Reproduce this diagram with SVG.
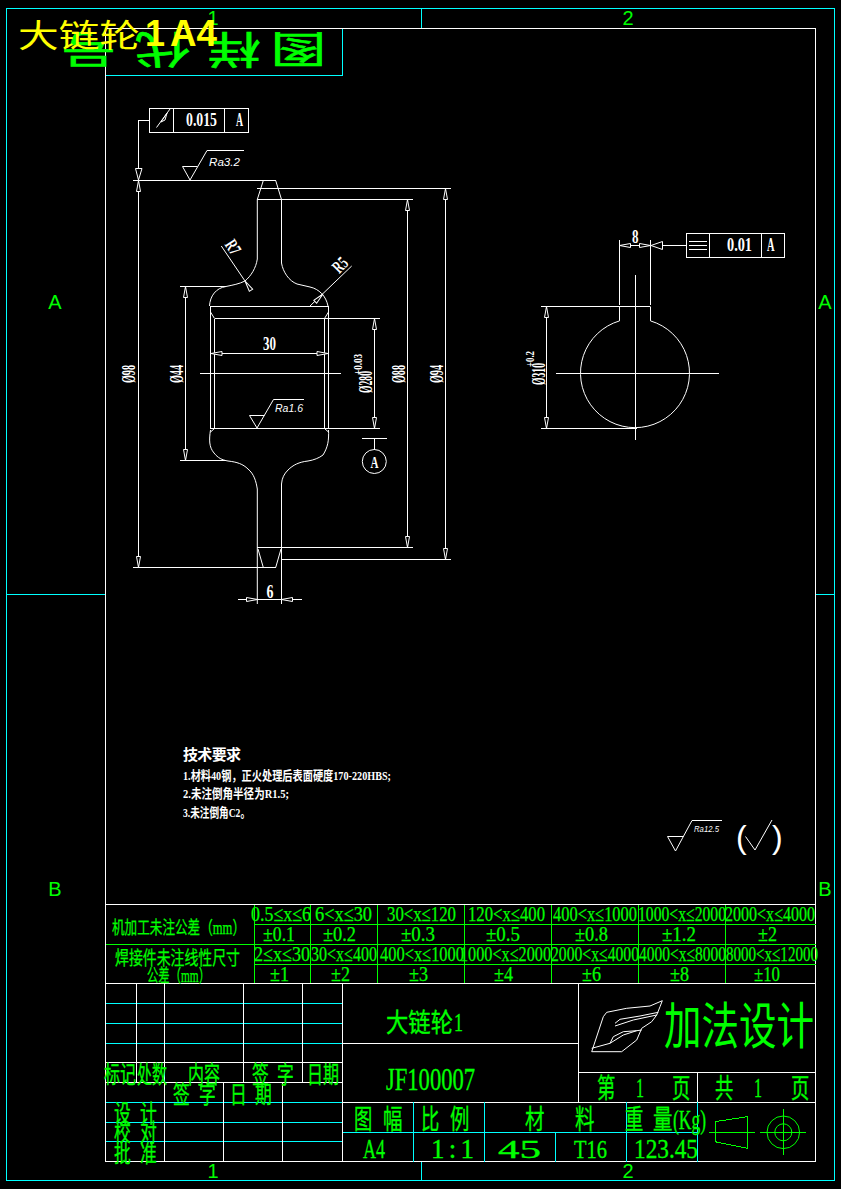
<svg xmlns="http://www.w3.org/2000/svg" xmlns:xlink="http://www.w3.org/1999/xlink" width="841" height="1189" viewBox="0 0 841 1189">
<style>
.w{stroke:#fff;stroke-width:1;fill:none;shape-rendering:crispEdges}
.s{stroke:#fff;stroke-width:1;fill:none}
.c{stroke:#0ff;stroke-width:1;fill:none;shape-rendering:crispEdges}
.g{stroke:#0f0;stroke-width:1;fill:none;shape-rendering:crispEdges}
.gs{stroke:#0f0;stroke-width:1;fill:none}
text{font-family:"Liberation Serif","Noto Sans CJK SC",serif}
.gt{fill:#0f0}
.wt{fill:#fff}
.d{fill:#fff;font-size:18px;font-weight:bold}
.ra{fill:#fff;font-family:"Liberation Sans",sans-serif;font-style:italic;font-size:11px}
.lab{fill:#0f0;font-family:"Liberation Sans",sans-serif;font-size:20px}
.t1{fill:#0f0;font-size:21px;stroke:#0f0;stroke-width:.25}
.t2{fill:#0f0;font-size:20px;stroke:#0f0;stroke-width:.25}
.cj{fill:#0f0;font-size:24px;stroke:#0f0;stroke-width:.3}
.big{fill:#0f0;font-size:27px;stroke:#0f0;stroke-width:.3}
</style>
<defs>
<polygon id="arr" points="0,0 -2,11 2,11" fill="#000" stroke="#fff" stroke-width="1"/>
</defs>
<rect width="841" height="1189" fill="#000"/>

<g id="sheet-border">
<rect class="c" x="6.5" y="8.5" width="828" height="1172"/>
<path class="c" d="M421.5 8.5V28.5M421.5 1162V1180.5M6.5 594.5H105.5M815.5 594.5H834.5M342.5 28.5V75.5H105.5"/>
<rect class="w" x="105.5" y="28.5" width="710" height="1133"/>
<text class="lab" x="213" y="25" text-anchor="middle">1</text>
<text class="lab" x="628" y="25" text-anchor="middle">2</text>
<text class="lab" x="213" y="1178" text-anchor="middle">1</text>
<text class="lab" x="628" y="1178" text-anchor="middle">2</text>
<text class="lab" x="55" y="309" text-anchor="middle">A</text>
<text class="lab" x="825" y="309" text-anchor="middle">A</text>
<text class="lab" x="55" y="896" text-anchor="middle">B</text>
<text class="lab" x="825" y="896" text-anchor="middle">B</text>
</g>

<g id="flipped-title" stroke="#0f0" stroke-width="0.6">
<text class="gt" font-size="38" transform="translate(326,36) rotate(180) scale(1.45,1)">图</text>
<text class="gt" font-size="38" transform="translate(261,36) rotate(180) scale(1.45,1)">样</text>
<text class="gt" font-size="38" transform="translate(190,36) rotate(180) scale(1.45,1)">代</text>
<text class="gt" font-size="38" transform="translate(116,36) rotate(180) scale(1.45,1)">号</text>
</g>

<g id="file-title">
<text x="18" y="47" fill="#ff0" font-size="32" textLength="122" lengthAdjust="spacingAndGlyphs">大链轮</text>
<text x="145" y="46" fill="#ff0" font-size="36" font-weight="bold" style="font-family:'Liberation Sans',sans-serif">1</text>
<text x="170" y="46" fill="#ff0" font-size="36" font-weight="bold" style="font-family:'Liberation Sans',sans-serif" textLength="47" lengthAdjust="spacingAndGlyphs">A4</text>
</g>

<g id="section-view">
<path class="s" d="M263.3 180.5L257.3 199.5V259C256 268 251 276 245 281C239 284 233 285 226 286.5C216 288 210 296 209.5 306"/>
<path class="s" d="M275.7 180.5L281.5 199.5V263C283 272 289 281 297 284L310 287C319 289 326 296 328 306"/>
<path class="w" d="M210.5 306H328.5V428.5H210.5ZM214.5 318.5H324.5M214.5 318.5V428.5M324.5 318.5V428.5"/>
<path class="s" d="M210.5 312L214.5 318.5M328.5 312L324.5 318.5M210.5 432L214.5 428.5M328.5 432L324.5 428.5"/>
<path class="s" d="M210.5 430C209 440 209 447 214 453C218 458 222 460 228 461C237 462 243 464 248 469C254 474 256 481 257.3 489V604"/>
<path class="s" d="M328.5 430C329 440 328 447 323 455C319 458 314 460 308 461C299 462 293 465 288 470C284 474 282 478 281.5 484V604"/>
<path class="s" d="M258 549L263.3 567.5M281 549L275.7 567.5"/>
<path class="w" d="M200 373.5H341"/>
</g>

<g id="section-connectors">
<path class="w" d="M133 180.5H276M133 567.5H276M257 188.5H451M281 559.5H451M257 199.5H413M257 547.5H413"/>
<path class="w" d="M180 286.5H226M180 460.5H226M214.5 318.5H380M214.5 428.5H380"/>
<path class="w" d="M138.5 180V567M185.5 286V460M374.5 318V428M407.5 199V547M445.5 188V559"/>
<path class="w" d="M211 353.5H328M238 599.5H302"/>
<use xlink:href="#arr" transform="translate(138.5,180.5)"/>
<use xlink:href="#arr" transform="translate(138.5,567.5) rotate(180)"/>
<use xlink:href="#arr" transform="translate(185.5,286.5)"/>
<use xlink:href="#arr" transform="translate(185.5,460.5) rotate(180)"/>
<use xlink:href="#arr" transform="translate(374.5,318.5)"/>
<use xlink:href="#arr" transform="translate(374.5,428.5) rotate(180)"/>
<use xlink:href="#arr" transform="translate(407.5,199.5)"/>
<use xlink:href="#arr" transform="translate(407.5,547.5) rotate(180)"/>
<use xlink:href="#arr" transform="translate(445.5,188.5)"/>
<use xlink:href="#arr" transform="translate(445.5,559.5) rotate(180)"/>
<use xlink:href="#arr" transform="translate(211,353.5) rotate(-90)"/>
<use xlink:href="#arr" transform="translate(328,353.5) rotate(90)"/>
<use xlink:href="#arr" transform="translate(257.5,599.5) rotate(90)"/>
<use xlink:href="#arr" transform="translate(281.5,599.5) rotate(-90)"/>
<path class="s" d="M221.3 246L245 281M310 306L351.7 266"/>
<use xlink:href="#arr" transform="translate(245,281) rotate(-33)"/>
<use xlink:href="#arr" transform="translate(323,294) rotate(45)"/>
</g>

<g id="dimension-labels">
<text class="d" transform="translate(135,383) rotate(-90)" textLength="18" lengthAdjust="spacingAndGlyphs">Ø98</text>
<text class="d" transform="translate(183,383) rotate(-90)" textLength="18" lengthAdjust="spacingAndGlyphs">Ø44</text>
<text class="d" transform="translate(405,383) rotate(-90)" textLength="18" lengthAdjust="spacingAndGlyphs">Ø88</text>
<text class="d" transform="translate(443,383) rotate(-90)" textLength="18" lengthAdjust="spacingAndGlyphs">Ø94</text>
<text class="d" transform="translate(372,393) rotate(-90)" textLength="22" lengthAdjust="spacingAndGlyphs">Ø280</text>
<text class="d" style="font-size:13px" transform="translate(362,375) rotate(-90)" textLength="21" lengthAdjust="spacingAndGlyphs">+0.03</text>
<text class="d" x="263" y="350" textLength="13" lengthAdjust="spacingAndGlyphs">30</text>
<text class="d" x="266.5" y="598" textLength="7" lengthAdjust="spacingAndGlyphs">6</text>
<text class="d" transform="translate(233,247) rotate(57)" x="-7" y="6" textLength="14" lengthAdjust="spacingAndGlyphs">R7</text>
<text class="d" transform="translate(340,265) rotate(-45)" x="-7" y="6" textLength="14" lengthAdjust="spacingAndGlyphs">R5</text>
</g>

<g id="tolerance-frame-top">
<rect class="w" x="149.5" y="108.5" width="99" height="24"/>
<path class="w" d="M173.5 108.5V132.5M224.5 108.5V132.5M149.5 120.5H138.5V168"/>
<path class="s" d="M156.5 127.5L170 109M161 122L167 113L165 120Z"/>
<polygon points="135.5,168.5 142,168.5 138.5,180" fill="none" stroke="#fff"/>
<text class="d" x="186" y="125.5" textLength="31" lengthAdjust="spacingAndGlyphs" style="font-size:19px">0.015</text>
<text class="d" x="236" y="125.5" textLength="7" lengthAdjust="spacingAndGlyphs">A</text>
</g>

<g id="roughness-ra32">
<path class="s" d="M182.5 166.5H197.5M182.5 166.5L190 180L207 150.5H244"/>
<text class="ra" x="209" y="166" textLength="31" lengthAdjust="spacingAndGlyphs">Ra3.2</text>
</g>
<g id="roughness-ra16">
<path class="s" d="M249.5 415.5H264.5M249.5 415.5L257 428L273.5 399.5H304"/>
<text class="ra" x="275" y="412" textLength="28" lengthAdjust="spacingAndGlyphs">Ra1.6</text>
</g>
<g id="datum-a">
<path class="w" d="M362 438.5H387M374.5 438.5V449.5"/>
<circle class="s" cx="374.3" cy="461.5" r="12"/>
<text class="d" x="370.5" y="468" textLength="8" lengthAdjust="spacingAndGlyphs" style="font-size:16px">A</text>
</g>

<g id="keyway-view">
<path class="s" d="M619.5 320.9V306.5M650.5 320.9V306.5M619.5 320.9A54.5 54.5 0 1 0 650.5 320.9"/>
<path class="w" d="M635.5 275V440M556 373.5H719"/>
</g>
<g id="keyway-connectors">
<path class="w" d="M541 306.5H650M541 428.5H637M546.5 306V428M619.5 240V305M650.5 240V305M619.5 245.5H650.5M662 245.5H686"/>
<use xlink:href="#arr" transform="translate(546.5,306.5)"/>
<use xlink:href="#arr" transform="translate(546.5,428.5) rotate(180)"/>
<use xlink:href="#arr" transform="translate(619.5,245.5) rotate(-90)"/>
<use xlink:href="#arr" transform="translate(650.5,245.5) rotate(90)"/>
<polygon points="651,245.5 662.5,241.5 662.5,249.5" fill="none" stroke="#fff"/>
<text class="d" x="632" y="243" textLength="6.5" lengthAdjust="spacingAndGlyphs">8</text>
<text class="d" transform="translate(545,385) rotate(-90)" textLength="22" lengthAdjust="spacingAndGlyphs">Ø310</text>
<text class="d" style="font-size:13px" transform="translate(534,367) rotate(-90)" textLength="16" lengthAdjust="spacingAndGlyphs">+0.2</text>
</g>
<g id="tolerance-frame-right">
<rect class="w" x="686.5" y="233.5" width="98" height="24"/>
<path class="w" d="M709.5 233.5V257.5M761.5 233.5V257.5M689 241.5H707M689 245.5H707M689 249.5H707"/>
<text class="d" x="727" y="251" textLength="25" lengthAdjust="spacingAndGlyphs" style="font-size:19px">0.01</text>
<text class="d" x="767" y="250.5" textLength="7.5" lengthAdjust="spacingAndGlyphs">A</text>
</g>

<g id="tech-requirements" font-weight="bold">
<text class="wt" x="183" y="760" font-size="15" textLength="58" lengthAdjust="spacing">技术要求</text>
<text class="wt" x="183" y="780" font-size="13" textLength="208" lengthAdjust="spacingAndGlyphs">1.材料40钢，正火处理后表面硬度170-220HBS;</text>
<text class="wt" x="183" y="798" font-size="13" textLength="106" lengthAdjust="spacingAndGlyphs">2.未注倒角半径为R1.5;</text>
<text class="wt" x="183" y="817" font-size="13" textLength="67" lengthAdjust="spacingAndGlyphs">3.未注倒角C2。</text>
</g>

<g id="roughness-general">
<path class="s" d="M667.5 836.5H683.5M667.5 836.5L675.5 851L692 820.5H722"/>
<text class="ra" x="694" y="832" textLength="25" lengthAdjust="spacingAndGlyphs" style="font-size:9px">Ra12.5</text>
<path class="s" d="M745.5 836.5L755 850L772 820"/>
<text class="wt" x="736" y="848" font-size="32" style="font-family:'Liberation Sans',sans-serif">(</text>
<text class="wt" x="772" y="848" font-size="32" style="font-family:'Liberation Sans',sans-serif">)</text>
</g>

<g id="tolerance-table">
<path class="w" d="M105.5 904.5H815.5M105.5 983.5H815.5"/>
<path class="g" d="M105.5 944.5H815.5M254.5 924.5H815.5M254.5 964.5H815.5M254.5 905V983M310.5 905V983M377.5 905V983M464.5 905V983M551.5 905V983M638.5 905V983M725.5 905V983"/>
<text class="t1" style="font-size:18px" x="112" y="934" textLength="133" lengthAdjust="spacingAndGlyphs">机加工未注公差（mm）</text>
<text class="t1" style="font-size:19px" x="115" y="965" textLength="125" lengthAdjust="spacingAndGlyphs">焊接件未注线性尺寸</text>
<text class="t1" style="font-size:18px" x="147" y="982" textLength="63" lengthAdjust="spacingAndGlyphs">公差（mm）</text>
<text class="t1" x="251" y="921" textLength="60" lengthAdjust="spacingAndGlyphs">0.5≤x≤6</text>
<text class="t1" x="315" y="921" textLength="57" lengthAdjust="spacingAndGlyphs">6&lt;x≤30</text>
<text class="t1" x="387" y="921" textLength="69" lengthAdjust="spacingAndGlyphs">30&lt;x≤120</text>
<text class="t1" x="468" y="921" textLength="77" lengthAdjust="spacingAndGlyphs">120&lt;x≤400</text>
<text class="t1" x="553" y="921" textLength="84" lengthAdjust="spacingAndGlyphs">400&lt;x≤1000</text>
<text class="t1" x="638" y="921" textLength="88" lengthAdjust="spacingAndGlyphs">1000&lt;x≤2000</text>
<text class="t1" x="725" y="921" textLength="90" lengthAdjust="spacingAndGlyphs">2000&lt;x≤4000</text>
<text class="t1" x="263" y="941" textLength="32" lengthAdjust="spacingAndGlyphs">±0.1</text>
<text class="t1" x="323" y="941" textLength="33" lengthAdjust="spacingAndGlyphs">±0.2</text>
<text class="t1" x="401" y="941" textLength="34" lengthAdjust="spacingAndGlyphs">±0.3</text>
<text class="t1" x="486" y="941" textLength="34" lengthAdjust="spacingAndGlyphs">±0.5</text>
<text class="t1" x="575" y="941" textLength="33" lengthAdjust="spacingAndGlyphs">±0.8</text>
<text class="t1" x="662" y="941" textLength="34" lengthAdjust="spacingAndGlyphs">±1.2</text>
<text class="t1" x="758" y="941" textLength="19" lengthAdjust="spacingAndGlyphs">±2</text>
<text class="t1" x="254" y="961" textLength="56" lengthAdjust="spacingAndGlyphs">2≤x≤30</text>
<text class="t1" x="311" y="961" textLength="66" lengthAdjust="spacingAndGlyphs">30&lt;x≤400</text>
<text class="t1" x="380" y="961" textLength="84" lengthAdjust="spacingAndGlyphs">400&lt;x≤1000</text>
<text class="t1" x="460" y="961" textLength="91" lengthAdjust="spacingAndGlyphs">1000&lt;x≤2000</text>
<text class="t1" x="551" y="961" textLength="88" lengthAdjust="spacingAndGlyphs">2000&lt;x≤4000</text>
<text class="t1" x="639" y="961" textLength="87" lengthAdjust="spacingAndGlyphs">4000&lt;x≤8000</text>
<text class="t1" x="726" y="961" textLength="92" lengthAdjust="spacingAndGlyphs">8000&lt;x≤12000</text>
<text class="t1" x="270" y="981" textLength="19" lengthAdjust="spacingAndGlyphs">±1</text>
<text class="t1" x="331" y="981" textLength="19" lengthAdjust="spacingAndGlyphs">±2</text>
<text class="t1" x="409" y="981" textLength="19" lengthAdjust="spacingAndGlyphs">±3</text>
<text class="t1" x="494" y="981" textLength="19" lengthAdjust="spacingAndGlyphs">±4</text>
<text class="t1" x="582" y="981" textLength="19" lengthAdjust="spacingAndGlyphs">±6</text>
<text class="t1" x="670" y="981" textLength="19" lengthAdjust="spacingAndGlyphs">±8</text>
<text class="t1" x="754" y="981" textLength="26" lengthAdjust="spacingAndGlyphs">±10</text>
</g>

<g id="revision-block">
<path class="c" d="M105.5 1003.5H342.5M105.5 1023.5H342.5M105.5 1043.5H342.5M105.5 1102.5H342.5M105.5 1122.5H342.5M105.5 1141.5H342.5"/>
<path class="w" d="M105.5 1062.5H342.5M105.5 1082.5H342.5M136.5 983V1082M164.5 983V1162M243.5 983V1082M302.5 983V1082M342.5 983V1162M223.5 1082V1162M282.5 1082V1162"/>
<text class="cj" x="104" y="1083" textLength="32" lengthAdjust="spacingAndGlyphs">标记</text>
<text class="cj" x="137" y="1083" textLength="30" lengthAdjust="spacingAndGlyphs">处数</text>
<text class="cj" x="188" y="1083" textLength="32" lengthAdjust="spacingAndGlyphs">内容</text>
<text class="cj" transform="translate(252,1083) scale(.7,1)">签</text>
<text class="cj" transform="translate(277,1083) scale(.7,1)">字</text>
<text class="cj" x="307" y="1083" textLength="32" lengthAdjust="spacingAndGlyphs">日期</text>
<text class="cj" transform="translate(173,1103) scale(.7,1)">签</text>
<text class="cj" transform="translate(199,1103) scale(.7,1)">字</text>
<text class="cj" transform="translate(230,1103) scale(.7,1)">日</text>
<text class="cj" transform="translate(255,1103) scale(.7,1)">期</text>
<text class="cj" transform="translate(114,1122) scale(.7,1)">设</text>
<text class="cj" transform="translate(140,1122) scale(.7,1)">计</text>
<text class="cj" transform="translate(114,1141) scale(.7,1)">校</text>
<text class="cj" transform="translate(140,1141) scale(.7,1)">对</text>
<text class="cj" transform="translate(114,1162) scale(.7,1)">批</text>
<text class="cj" transform="translate(140,1162) scale(.7,1)">准</text>
</g>

<g id="title-block">
<path class="w" d="M342.5 1043.5H578.5M578.5 983V1102M578.5 1072.5H815.5M697.5 1072V1102M342.5 1102.5H815.5"/>
<path class="c" d="M342.5 1132.5H697.5M413.5 1102V1162M484.5 1102V1162M555.5 1132V1162M626.5 1102V1162M697.5 1102V1162"/>
<text class="big" style="font-size:26px" x="386" y="1032" textLength="67" lengthAdjust="spacingAndGlyphs">大链轮</text>
<text class="big" style="font-size:26px" x="454" y="1031" textLength="9" lengthAdjust="spacingAndGlyphs">1</text>
<text class="big" style="font-size:32px" x="386" y="1090" textLength="89" lengthAdjust="spacingAndGlyphs">JF100007</text>
<text class="gt" x="664" y="1044" font-size="50" textLength="150" lengthAdjust="spacingAndGlyphs">加法设计</text>
<text class="big" transform="translate(597,1098) scale(.68,1)">第</text>
<text class="big" x="636" y="1097" textLength="8" lengthAdjust="spacingAndGlyphs">1</text>
<text class="big" transform="translate(672,1098) scale(.68,1)">页</text>
<text class="big" transform="translate(715,1098) scale(.68,1)">共</text>
<text class="big" x="754" y="1097" textLength="8" lengthAdjust="spacingAndGlyphs">1</text>
<text class="big" transform="translate(791,1098) scale(.68,1)">页</text>
<text class="big" transform="translate(354,1129) scale(.68,1)">图</text>
<text class="big" transform="translate(383,1129) scale(.72,1)">幅</text>
<text class="big" transform="translate(421,1129) scale(.68,1)">比</text>
<text class="big" transform="translate(450,1129) scale(.72,1)">例</text>
<text class="big" transform="translate(525,1129) scale(.72,1)">材</text>
<text class="big" transform="translate(575,1129) scale(.72,1)">料</text>
<text class="big" transform="translate(625,1129) scale(.68,1)">重</text>
<text class="big" transform="translate(653,1129) scale(.72,1)">量</text>
<text class="big" x="673" y="1129" textLength="33" lengthAdjust="spacingAndGlyphs">(Kg)</text>
<text class="big" x="363" y="1158" textLength="22" lengthAdjust="spacingAndGlyphs">A4</text>
<text class="big" x="431" y="1158" textLength="43" lengthAdjust="spacing">1:1</text>
<text class="big" style="font-size:26px" x="498" y="1158" textLength="43" lengthAdjust="spacingAndGlyphs">45</text>
<text class="big" style="font-size:26px" x="574" y="1158" textLength="33" lengthAdjust="spacingAndGlyphs">T16</text>
<text class="big" x="634" y="1158" textLength="64" lengthAdjust="spacingAndGlyphs">123.45</text>
</g>

<g id="logo">
<path class="s" d="M591.7 1051.7L603.3 1016.7L606.7 1012.3L626.7 1008.3L650 1006L662.3 1000.7L660 1006.7L656.7 1015L651.7 1021.7L641.7 1028.3L636.7 1040L621.7 1051.7Z"/>
<path class="s" d="M591.7 1048.3L610 1043.3L623.3 1035L636.7 1030.7L641.7 1030M610 1043.3L613.3 1036.7L623.3 1031.7L636.7 1030.7M615 1023.3L620 1019.3L640 1016L658.3 1012.3M615 1026L633.3 1020L656.7 1015"/>
</g>

<g id="projection-symbol">
<path class="g" d="M715 1121.7L747.3 1116.7V1148.3L715 1141.7ZM709 1132.5H755M760 1132.5H806M783.5 1109V1155"/>
<circle class="gs" cx="783.3" cy="1132.3" r="16.3"/>
<circle class="gs" cx="783.3" cy="1132.3" r="8.5"/>
</g>
</svg>
